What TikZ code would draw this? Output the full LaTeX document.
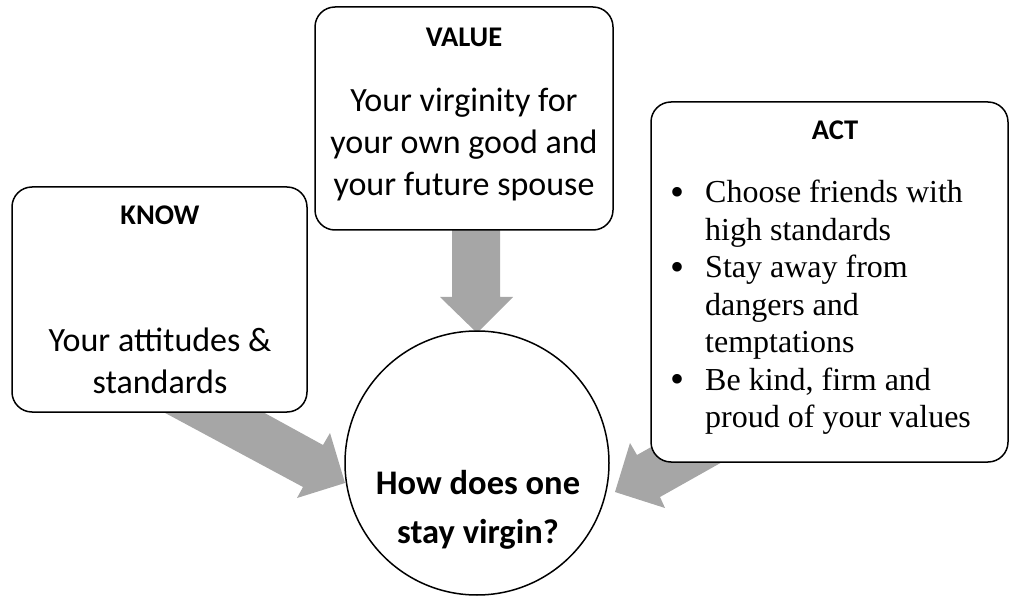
\documentclass[tikz,border=0pt]{standalone}
\usepackage{fontspec}
\setmainfont{Carlito}
\newfontfamily\timesfont{Liberation Serif}
\definecolor{arrowgray}{HTML}{A6A6A6}
\begin{document}
\begin{tikzpicture}[x=1pt,y=-1pt,
  box/.style={draw, line width=1.5pt, rounded corners=20pt, fill=white, inner sep=0pt},
  blockarrow/.style={fill=arrowgray, draw=none},
  titletext/.style={font=\fontsize{28.5}{34}\selectfont\bfseries, inner sep=0pt},
  bodytext/.style={font=\fontsize{34}{42}\selectfont, align=center, inner sep=0pt},
  centertext/.style={font=\fontsize{34.5}{49}\selectfont\bfseries, align=center, inner sep=0pt}]
\useasboundingbox (0,0) rectangle (1010,596);

% block arrows (behind boxes)
\fill[blockarrow] (452,220) -- (500,220) -- (500,297) -- (513,297) -- (477,333)
  -- (440,297) -- (452,297) -- cycle;
\fill[blockarrow] (241,400) -- (323,445) -- (330,433) -- (345,483) -- (297,498)
  -- (303,487) -- (141,400) -- cycle;
\fill[blockarrow] (740,397) -- (637,455) -- (630,443) -- (615,492) -- (665,508)
  -- (660,497) -- (740,452) -- cycle;

% boxes
\node[box, minimum width=295pt, minimum height=225pt] (know) at (159.5,299.5) {};
\node[box, minimum width=298pt, minimum height=223pt] (value) at (464,118.5) {};
\node[box, minimum width=357pt, minimum height=360pt] (act) at (829.5,282) {};
\node[draw, circle, line width=1.5pt, fill=white, minimum size=264pt, inner sep=0pt] (goal) at (477,463) {};

% texts
\node[titletext] (knowt) at (160,215) {KNOW};
\node[bodytext] (knowb) at (160,361) {Your attitudes \&\\standards};

\node[titletext] (valuet) at (464,37) {VALUE};
\node[bodytext] (valueb) at (464,144.5) {Your virginity for\\your own good and\\your future spouse};

\node[titletext] (actt) at (835,130) {ACT};
\node[anchor=west, inner sep=0pt, font=\timesfont\fontsize{32}{37.5}\selectfont] (actb) at (670,308)
  {\begin{tabular}{@{}l@{\hspace{21pt}}l@{}}
   \raisebox{-2pt}{\scalebox{1.25}{\textbullet}} & Choose friends with\\
               & high standards\\
   \raisebox{-2pt}{\scalebox{1.25}{\textbullet}} & Stay away from\\
               & dangers and\\
               & temptations\\
   \raisebox{-2pt}{\scalebox{1.25}{\textbullet}} & Be kind, firm and\\
               & proud of your values
   \end{tabular}};

\node[centertext] (goalt) at (478,509.5) {How does one\\stay virgin?};
\end{tikzpicture}
\end{document}
